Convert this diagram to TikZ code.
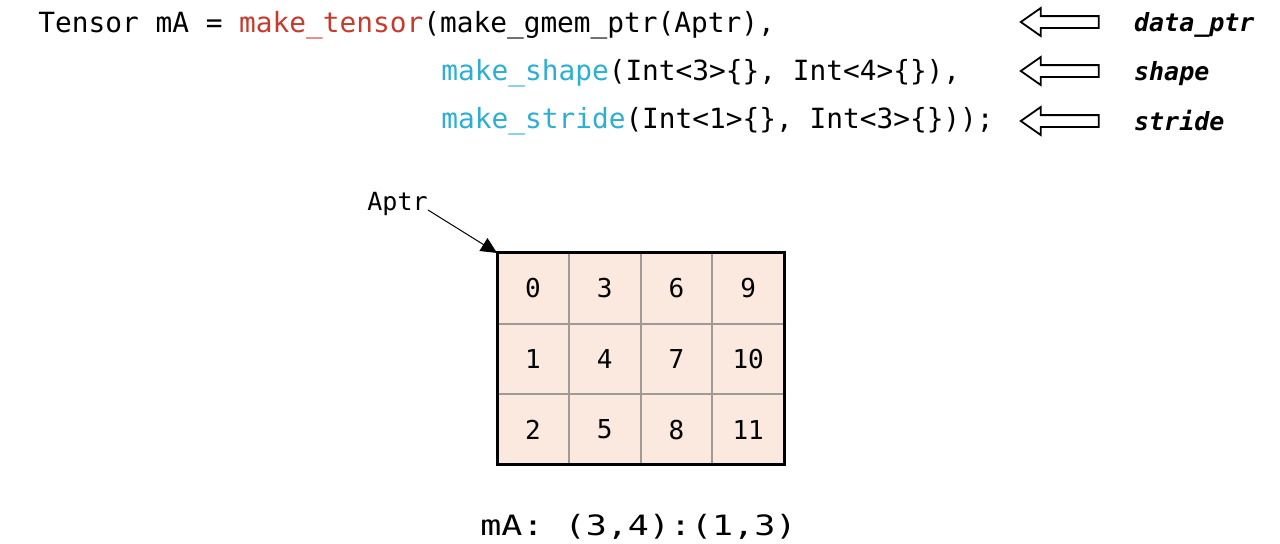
\documentclass[tikz,border=0pt]{standalone}
\usepackage{fontspec}
\setmonofont{DejaVu Sans Mono}
\newfontfamily\widemono[FakeStretch=1.25]{DejaVu Sans Mono}
\usepackage{xcolor}
\usepackage{tikz}
\usetikzlibrary{arrows.meta, positioning, shapes.arrows, fit}

\definecolor{tensorred}{HTML}{C63B2D}
\definecolor{callcyan}{HTML}{2CAFD3}
\definecolor{cellfill}{HTML}{FBE9DF}
\definecolor{cellline}{HTML}{A09A96}

\begin{document}
\begin{tikzpicture}[x=0.5pt, y=-0.5pt,
    code/.style={anchor=base west, inner sep=0pt,
        font=\ttfamily\fontsize{13.9pt}{16pt}\selectfont},
    tag/.style={inner sep=0pt, text height=9pt, text depth=0pt,
        font=\ttfamily\bfseries\itshape\fontsize{12.5pt}{15pt}\selectfont},
    hollow/.style={single arrow, draw, line width=0.9pt, shape border rotate=180,
        minimum height=39pt, minimum width=0pt, inner xsep=0pt, inner ysep=2.5pt,
        single arrow head extend=4pt, single arrow tip angle=70},
    cell/.style={rectangle, draw=cellline, fill=cellfill, line width=1pt,
        minimum width=35.875pt, minimum height=35.33pt, outer sep=0pt, inner sep=0pt,
        font=\ttfamily\fontsize{13pt}{15pt}\selectfont},
    arr/.style={-{Triangle[length=8pt, width=7.5pt]}, line width=0.5pt}
]
\useasboundingbox (0,0) rectangle (1280,543);

\node[code] (line1) at (38,32) {Tensor mA = \textcolor{tensorred}{make\_tensor}(make\_gmem\_ptr(Aptr),};
\node[code] (line2) at (441,80) {\textcolor{callcyan}{make\_shape}(Int<3>\{\}, Int<4>\{\}),};
\node[code] (line3) at (441,128) {\textcolor{callcyan}{make\_stride}(Int<1>\{\}, Int<3>\{\}));};

\node[hollow] (ptrarrow) at (1064,22) {};
\node[hollow] (shapearrow) at (1064,71) {};
\node[hollow] (stridearrow) at (1064,121) {};
\node[tag, right=17pt of ptrarrow] (ptrtag) {data\_ptr};
\node[tag, right=17pt of shapearrow] (shapetag) {shape};
\node[tag, right=17pt of stridearrow] (stridetag) {stride};

\node[cell] (c0) at (532.9,288.3) {0};
\node[cell, below=0pt of c0] (c1) {1};
\node[cell, below=0pt of c1] (c2) {2};
\node[cell, right=0pt of c0] (c3) {3};
\node[cell, below=0pt of c3] (c4) {4};
\node[cell, below=0pt of c4] (c5) {5};
\node[cell, right=0pt of c3] (c6) {6};
\node[cell, below=0pt of c6] (c7) {7};
\node[cell, below=0pt of c7] (c8) {8};
\node[cell, right=0pt of c6] (c9) {9};
\node[cell, below=0pt of c9] (c10) {10};
\node[cell, below=0pt of c10] (c11) {11};
\node[fit=(c0)(c11), draw, line width=1.5pt, inner sep=0pt, outer sep=0pt] (grid) {};

\node[anchor=base west, inner sep=0pt, font=\ttfamily\fontsize{12.5pt}{15pt}\selectfont] (aptr) at (367,210) {Aptr};
\draw[arr] (aptr.base east) -- (grid.north west);

\node[anchor=base west, inner sep=0pt, font=\widemono\fontsize{14pt}{17pt}\selectfont] (layout) at (480,535) {mA: (3,4):(1,3)};
\end{tikzpicture}
\end{document}
